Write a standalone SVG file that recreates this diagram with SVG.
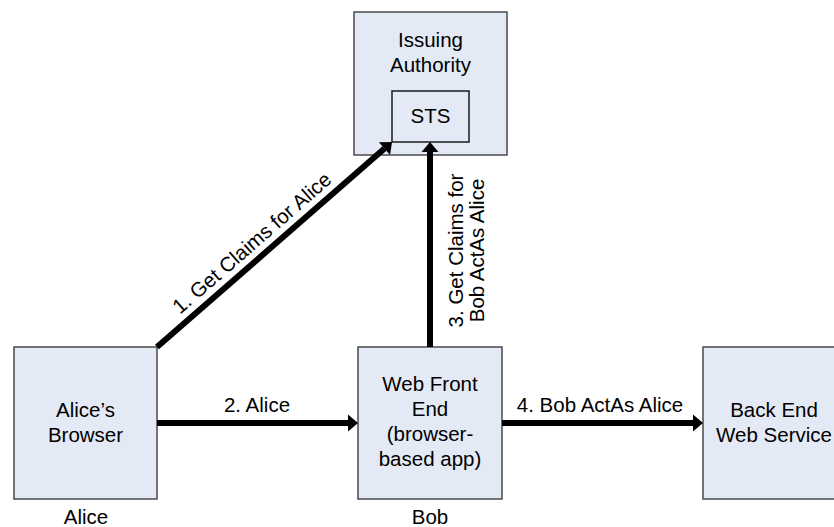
<svg xmlns="http://www.w3.org/2000/svg" width="834" height="527" viewBox="0 0 834 527">
  <style>
    text { font-family: "Liberation Sans", Arial, sans-serif; font-size: 20.5px; fill: #000; }
    .c { text-anchor: middle; }
    .box { fill: #E4EAF5; stroke: #4a4a4a; stroke-width: 1.5; }
    .inner { fill: #E4EAF5; stroke: #1a1a1a; stroke-width: 1.5; }
    .flow { stroke: #000; stroke-width: 6; fill: none; marker-end: url(#head); }
  </style>
  <defs>
    <marker id="head" markerUnits="userSpaceOnUse" markerWidth="11" markerHeight="18" refX="0" refY="8.5" orient="auto" overflow="visible">
      <path d="M0,0 L10,8.5 L0,17 Z" fill="#000"/>
    </marker>
  </defs>
  <rect width="834" height="527" fill="#fff"/>

  <!-- nodes -->
  <g id="issuing-authority">
    <rect class="box" x="354" y="12" width="153" height="143"/>
    <text class="c" x="430.5" y="47">Issuing</text>
    <text class="c" x="430.5" y="72">Authority</text>
  </g>
  <g id="sts">
    <rect class="inner" x="392" y="91" width="77" height="51"/>
    <text class="c" x="430.5" y="123">STS</text>
  </g>
  <g id="alices-browser">
    <rect class="box" x="14" y="347" width="143" height="152"/>
    <text class="c" x="85.5" y="417">Alice’s</text>
    <text class="c" x="85.5" y="441.5">Browser</text>
    <text class="c" x="86" y="524">Alice</text>
  </g>
  <g id="web-front-end">
    <rect class="box" x="358" y="347" width="144" height="152"/>
    <text class="c" x="430" y="391">Web Front</text>
    <text class="c" x="430" y="416">End</text>
    <text class="c" x="430" y="441">(browser-</text>
    <text class="c" x="430" y="466">based app)</text>
    <text class="c" x="430" y="524">Bob</text>
  </g>
  <g id="back-end-web-service">
    <rect class="box" x="703" y="347" width="146" height="152"/>
    <text class="c" x="774" y="417">Back End</text>
    <text class="c" x="774" y="441.5">Web Service</text>
  </g>

  <!-- connectors -->
  <g id="connectors">
    <line class="flow" x1="157" y1="347" x2="384.5" y2="148.6"/>
    <line class="flow" x1="157" y1="423" x2="348" y2="423"/>
    <line class="flow" x1="430" y1="347" x2="430" y2="152"/>
    <line class="flow" x1="502" y1="423" x2="693" y2="423"/>
    <text class="c" transform="translate(256.5,248.2) rotate(-41.1)">1. Get Claims for Alice</text>
    <text class="c" x="257" y="412">2. Alice</text>
    <text class="c" transform="translate(463,250.5) rotate(-90)"><tspan x="0" y="0">3. Get Claims for</tspan><tspan x="0" y="21">Bob ActAs Alice</tspan></text>
    <text class="c" x="600" y="412">4. Bob ActAs Alice</text>
  </g>
</svg>
